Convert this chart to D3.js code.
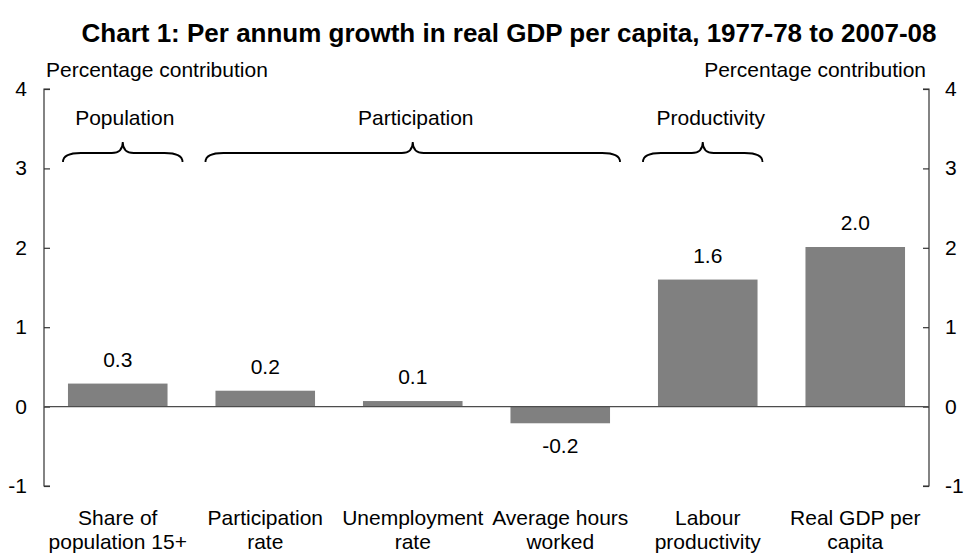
<!DOCTYPE html>
<html><head><meta charset="utf-8">
<script src="https://cdn.jsdelivr.net/npm/d3@7"></script>
<style>body{margin:0;background:#fff}svg{display:block}text{font-family:"Liberation Sans",Arial,sans-serif;fill:#000}</style>
</head><body>
<svg id="c" width="964" height="553"></svg>
<script>
const categories = [["Share of","population 15+"],["Participation","rate"],["Unemployment","rate"],["Average hours","worked"],["Labour","productivity"],["Real GDP per","capita"]];
const values = [0.29, 0.2, 0.07, -0.21, 1.6, 2.01];
const yTicks = [-1, 0, 1, 2, 3, 4];
const groups = [
  {label: "Population", from: 0, to: 0},
  {label: "Participation", from: 1, to: 3},
  {label: "Productivity", from: 4, to: 4}
];
const title = "Chart 1: Per annum growth in real GDP per capita, 1977-78 to 2007-08";
const axisTitle = "Percentage contribution";

const svg = d3.select("#c");
const L = 44, R = 929, T = 89, B = 486;
const FS = 21;
const x = d3.scaleBand().domain(d3.range(categories.length)).range([L, R]).paddingInner(0.325).paddingOuter(0.1625);
const y = d3.scaleLinear().domain([-1, 4]).range([B, T]);
const bw = x.bandwidth();

svg.append("text").attr("x", 509).attr("y", 42).attr("text-anchor", "middle")
  .attr("font-size", 26).attr("font-weight", "bold").text(title);
svg.append("text").attr("x", 46).attr("y", 77).attr("font-size", FS).text(axisTitle);
svg.append("text").attr("x", 926).attr("y", 77).attr("text-anchor", "end").attr("font-size", FS).text(axisTitle);

// axes
const la = svg.append("g").attr("transform", `translate(${L},0)`)
  .call(d3.axisRight(y).tickValues(yTicks).tickSize(6).tickFormat(""));
const ra = svg.append("g").attr("transform", `translate(${R},0)`)
  .call(d3.axisLeft(y).tickValues(yTicks).tickSize(6).tickFormat(""));
[la, ra].forEach(g => { g.selectAll("path,line").attr("stroke", "#333").attr("stroke-width", 1.2); });
la.select(".domain").attr("d", `M6,${T}H0V${B}H6`);
ra.select(".domain").attr("d", `M-6,${T}H0V${B}H-6`);

svg.append("g").selectAll("text").data(yTicks).join("text")
  .attr("x", 27).attr("y", d => y(d) + 7).attr("text-anchor", "end").attr("font-size", FS).text(d => d);
svg.append("g").selectAll("text").data(yTicks).join("text")
  .attr("x", 945).attr("y", d => y(d) + 7).attr("font-size", FS).text(d => d);

// bars
svg.append("g").selectAll("rect").data(values).join("rect")
  .attr("x", (d, i) => x(i)).attr("width", bw)
  .attr("y", d => y(Math.max(0, d))).attr("height", d => Math.abs(y(d) - y(0)))
  .attr("fill", "#808080");

svg.append("line").attr("x1", L).attr("x2", R).attr("y1", y(0)).attr("y2", y(0))
  .attr("stroke", "#4d4d4d").attr("stroke-width", 1.2);

svg.append("g").selectAll("text").data(values).join("text")
  .attr("x", (d, i) => x(i) + bw / 2)
  .attr("y", d => d >= 0 ? y(d) - 17 : y(d) + 30)
  .attr("text-anchor", "middle").attr("font-size", FS).text(d => d.toFixed(1));

// category labels
const cl = svg.append("g").selectAll("text").data(categories).join("text")
  .attr("text-anchor", "middle").attr("font-size", FS)
  .attr("transform", (d, i) => `translate(${x(i) + bw / 2},0)`);
cl.selectAll("tspan").data(d => d).join("tspan").attr("x", 0)
  .attr("y", (d, j) => 525 + j * 24).text(d => d);

// group braces
const gg = svg.append("g");
groups.forEach(g => {
  const s = x(g.from), e = x(g.to) + bw;
  const shift = g.from === g.to ? (g.from === 0 ? 5 : -5) : 0;
  const x1 = s - 10 + shift, x2 = e + 10 + shift;
  const xc = (x1 + x2) / 2;
  const yt = 142, yf = 153, ye = 162;
  const p = `M${x1},${ye} Q${x1},${yf} ${x1 + 18},${yf} L${xc - 11},${yf} Q${xc},${yf} ${xc},${yt} Q${xc},${yf} ${xc + 11},${yf} L${x2 - 18},${yf} Q${x2},${yf} ${x2},${ye}`;
  gg.append("path").attr("d", p).attr("fill", "none").attr("stroke", "#000").attr("stroke-width", 1.8);
  gg.append("text").attr("x", xc + (g.from === g.to ? (g.from === 0 ? 2 : 8) : 3)).attr("y", 125)
    .attr("text-anchor", "middle").attr("font-size", FS).text(g.label);
});
</script>
</body></html>
